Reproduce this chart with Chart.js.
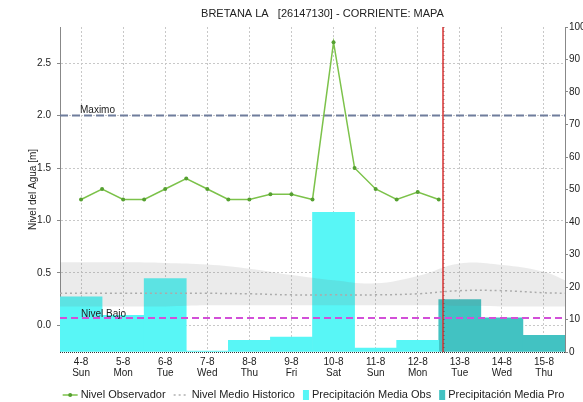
<!DOCTYPE html>
<html>
<head>
<meta charset="utf-8">
<script src="https://cdn.jsdelivr.net/npm/chart.js@4.4.0/dist/chart.umd.min.js"></script>
<style>
  html, body { margin: 0; padding: 0; background: #fff; }
</style>
</head>
<body>
<canvas id="grafico" width="583" height="402"></canvas>
<script>
const FUENTE = "'Liberation Sans', Arial, sans-serif";

const titulo = "BRETANA LA   [26147130] - CORRIENTE: MAPA";
const fechas = ["4-8", "5-8", "6-8", "7-8", "8-8", "9-8", "10-8", "11-8", "12-8", "13-8", "14-8", "15-8"];
const dias = ["Sun", "Mon", "Tue", "Wed", "Thu", "Fri", "Sat", "Sun", "Mon", "Tue", "Wed", "Thu"];

// nivel observado (m), una lectura cada 12 h desde el 4-8
const nivelObs = [1.2, 1.3, 1.2, 1.2, 1.3, 1.4, 1.3, 1.2, 1.2, 1.25, 1.25, 1.2, 2.7, 1.5, 1.3, 1.2, 1.27, 1.2];

// precipitacion diaria (mm): observada hasta el 12-8, pronosticada desde el 13-8
const precipObs = [17, 11.3, 22.6, 0.3, 3.6, 4.6, 43, 1.2, 3.6];
const precipPro = [16.1, 10.5, 5.1];

// banda historica: posiciones (dias), minimo, maximo y media (m)
const histDia = [-0.5, 0, 1, 2, 3, 4, 5, 6, 7, 8, 9, 10, 11, 11.5];
const histMin = [0.18, 0.18, 0.18, 0.18, 0.19, 0.19, 0.19, 0.19, 0.19, 0.19, 0.185, 0.18, 0.18, 0.18];
const histMax = [0.60, 0.60, 0.60, 0.595, 0.58, 0.54, 0.48, 0.43, 0.40, 0.47, 0.59, 0.575, 0.51, 0.43];
const histMedia = [0.305, 0.305, 0.305, 0.305, 0.305, 0.30, 0.29, 0.29, 0.29, 0.30, 0.33, 0.33, 0.31, 0.305];

// umbrales (m) y momento actual (dias desde el 4-8)
const nivelMaximo = 2.0;
const nivelBajo = 0.07;
const ahora = 8.6;

const X_MIN = -0.5, X_MAX = fechas.length - 0.5;

const serie = (ys, xs) => ys.map((y, i) => ({ x: xs[i], y }));
const horizontal = v => [{ x: X_MIN, y: v }, { x: X_MAX, y: v }];

const leyenda = [
  { texto: "Nivel Observador", tipo: "linea", color: "#7cc24a" },
  { texto: "Nivel Medio Historico", tipo: "puntos", color: "#b0b0b0" },
  { texto: "Precipitación Media Obs", tipo: "caja", color: "#58f6f6" },
  { texto: "Precipitación Media Pro", tipo: "caja", color: "#42c2c2" }
];

// titulo, etiquetas de umbral, linea de "ahora", eje inferior punteado y leyenda
const extras = {
  id: "extras",
  afterDatasetsDraw(chart) {
    const { ctx, chartArea: ca, scales } = chart;
    ctx.save();
    ctx.fillStyle = "#222";
    ctx.font = "10px " + FUENTE;
    ctx.textBaseline = "alphabetic";
    ctx.fillText("Maximo", ca.left + 20, scales.y.getPixelForValue(nivelMaximo) - 3);
    ctx.fillText("Nivel Bajo", ca.left + 21, scales.y.getPixelForValue(nivelBajo) - 1);

    // linea del momento actual
    const xa = Math.round(scales.x.getPixelForValue(ahora));
    ctx.strokeStyle = "#d83030";
    ctx.lineWidth = 1.5;
    ctx.beginPath();
    ctx.moveTo(xa, ca.top);
    ctx.lineTo(xa, ca.bottom);
    ctx.stroke();
    ctx.strokeStyle = "rgba(90,20,20,0.55)";
    ctx.lineWidth = 1;
    ctx.setLineDash([1, 3]);
    ctx.beginPath();
    ctx.moveTo(xa + 1, ca.top);
    ctx.lineTo(xa + 1, ca.bottom);
    ctx.stroke();

    // eje x punteado
    ctx.strokeStyle = "#333";
    ctx.setLineDash([1, 1]);
    ctx.beginPath();
    ctx.moveTo(ca.left, ca.bottom + 0.5);
    ctx.lineTo(ca.right, ca.bottom + 0.5);
    ctx.stroke();
    ctx.setLineDash([]);
    ctx.restore();
  },
  afterDraw(chart) {
    const { ctx, chartArea: ca } = chart;
    ctx.save();
    ctx.fillStyle = "#222";
    ctx.font = "11px " + FUENTE;
    ctx.textAlign = "center";
    ctx.textBaseline = "middle";
    ctx.fillText(titulo, (ca.left + ca.right) / 2 + 10, 14);

    // leyenda inferior
    ctx.textAlign = "left";
    const anchoSimbolo = it => (it.tipo === "caja" ? 6 : 15);
    const total = leyenda.reduce((s, it) => s + anchoSimbolo(it) + 3 + ctx.measureText(it.texto).width, 0) + 8 * (leyenda.length - 1);
    let x = (ca.left + ca.right) / 2 + 1 - total / 2;
    const y = 395;
    leyenda.forEach(it => {
      const w = anchoSimbolo(it);
      if (it.tipo === "caja") {
        ctx.fillStyle = it.color;
        ctx.fillRect(x, y - 5, w, 10);
      } else {
        ctx.strokeStyle = it.color;
        ctx.lineWidth = 1.5;
        ctx.setLineDash(it.tipo === "puntos" ? [2, 3] : []);
        ctx.beginPath();
        ctx.moveTo(x, y);
        ctx.lineTo(x + w, y);
        ctx.stroke();
        ctx.setLineDash([]);
        if (it.tipo === "linea") {
          ctx.fillStyle = "#55a030";
          ctx.beginPath();
          ctx.arc(x + w / 2, y, 2, 0, Math.PI * 2);
          ctx.fill();
        }
      }
      x += w + 3;
      ctx.fillStyle = "#222";
      ctx.fillText(it.texto, x, y);
      x += ctx.measureText(it.texto).width + 8;
    });
    ctx.restore();
  }
};

Chart.defaults.font.family = FUENTE;
Chart.defaults.color = "#222";

const ctx = document.getElementById("grafico").getContext("2d");
new Chart(ctx, {
  data: {
    datasets: [
      {
        type: "line",
        label: "Nivel Observador",
        data: nivelObs.map((v, i) => ({ x: i / 2, y: v })),
        yAxisID: "y",
        borderColor: "#7cc24a",
        borderWidth: 1.5,
        pointRadius: 2,
        pointBackgroundColor: "#55a030",
        pointBorderWidth: 0,
        tension: 0,
        order: 0
      },
      {
        type: "line",
        label: "Maximo",
        data: horizontal(nivelMaximo),
        yAxisID: "y",
        borderColor: "#6f7d9c",
        borderWidth: 2,
        borderDash: [8, 4],
        pointRadius: 0,
        order: 1
      },
      {
        type: "line",
        label: "Nivel Bajo",
        data: horizontal(nivelBajo),
        yAxisID: "y",
        borderColor: "#d24fd8",
        borderWidth: 2,
        borderDash: [7, 4],
        pointRadius: 0,
        order: 1
      },
      {
        type: "line",
        label: "Nivel Medio Historico",
        data: serie(histMedia, histDia),
        yAxisID: "y",
        borderColor: "#ababab",
        borderWidth: 1.5,
        borderDash: [2, 3],
        pointRadius: 0,
        tension: 0.4,
        order: 2
      },
      {
        type: "line",
        label: "hist-min",
        data: serie(histMin, histDia),
        yAxisID: "y",
        borderWidth: 0,
        pointRadius: 0,
        tension: 0.4,
        fill: false,
        order: 3
      },
      {
        type: "line",
        label: "hist-max",
        data: serie(histMax, histDia),
        yAxisID: "y",
        borderWidth: 0,
        pointRadius: 0,
        tension: 0.4,
        fill: "-1",
        backgroundColor: "rgba(120,120,120,0.15)",
        order: 3
      },
      {
        type: "bar",
        label: "Precipitación Media Obs",
        data: precipObs.map((v, i) => ({ x: i, y: v })),
        yAxisID: "y2",
        backgroundColor: "#58f6f6",
        barPercentage: 1,
        categoryPercentage: 1,
        grouped: false,
        order: 5
      },
      {
        type: "bar",
        label: "Precipitación Media Pro",
        data: precipPro.map((v, i) => ({ x: precipObs.length + i, y: v })),
        yAxisID: "y2",
        backgroundColor: "#42c2c2",
        barPercentage: 1,
        categoryPercentage: 1,
        grouped: false,
        order: 5
      }
    ]
  },
  options: {
    responsive: false,
    animation: false,
    layout: { padding: { top: 27, left: 0, right: 0, bottom: 0 } },
    plugins: {
      legend: { display: false },
      title: { display: false },
      tooltip: { enabled: false }
    },
    scales: {
      x: {
        type: "linear",
        min: X_MIN,
        max: X_MAX,
        offset: false,
        afterBuildTicks: s => { s.ticks = fechas.map((f, i) => ({ value: i })); },
        afterFit: s => { s.height = 50; },
        ticks: {
          autoSkip: false,
          maxRotation: 0,
          padding: 5,
          font: { size: 10, lineHeight: 1.1 },
          callback: v => [fechas[v], dias[v]]
        },
        grid: { color: "#c8c8c8", drawTicks: false, offset: false },
        border: { display: false, dash: [2, 2] }
      },
      y: {
        position: "left",
        min: -0.255,
        max: 2.845,
        afterFit: s => { s.width = 60; },
        ticks: {
          stepSize: 0.5,
          includeBounds: false,
          padding: 6,
          font: { size: 10 },
          callback: v => v.toFixed(1)
        },
        grid: { color: "#c8c8c8", tickColor: "#888", tickLength: 3, tickBorderDash: [] },
        border: { color: "#888", dash: [2, 2] },
        title: {
          display: true,
          text: "Nivel del Agua [m]",
          font: { size: 10 },
          padding: { top: 27, bottom: 0 }
        }
      },
      y2: {
        position: "right",
        min: 0,
        max: 100,
        afterFit: s => { s.width = 18; },
        ticks: { stepSize: 10, padding: 1, font: { size: 10 } },
        grid: { drawOnChartArea: false, color: "#888", tickLength: 3 },
        border: { color: "#888" }
      }
    }
  },
  plugins: [extras]
});
</script>
</body>
</html>
